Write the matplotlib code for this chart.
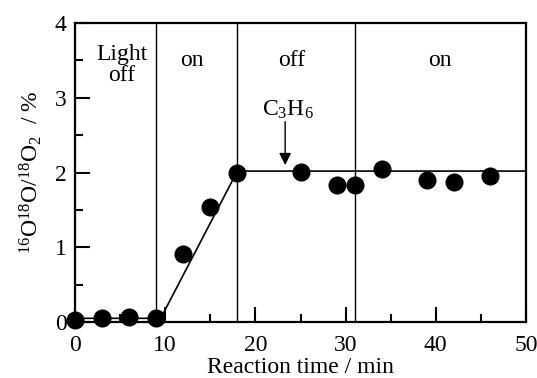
import matplotlib
matplotlib.use("Agg")
import matplotlib.pyplot as plt

plt.rcParams['font.family'] = ['Liberation Serif', 'DejaVu Serif']
plt.rcParams['mathtext.fontset'] = 'custom'
plt.rcParams['mathtext.rm'] = 'Liberation Serif'
plt.rcParams['mathtext.it'] = 'Liberation Serif:italic'
plt.rcParams['mathtext.bf'] = 'Liberation Serif:bold'

# Data
time_min = [0, 3, 6, 9, 12, 15, 18, 25, 29, 31, 34, 39, 42, 46]
ratio_pct = [0.03, 0.06, 0.07, 0.05, 0.91, 1.54, 2.00, 2.01, 1.83, 1.83, 2.05, 1.90, 1.87, 1.95]
fit_x = [0, 9.5, 18, 50]
fit_y = [0.05, 0.05, 2.02, 2.02]
switch_times = [9, 18, 31]
period_labels = ["Light\noff", "on", "off", "on"]
period_label_x = [5.2, 13, 24, 40.5]
xticks = [0, 10, 20, 30, 40, 50]
yticks = [0, 1, 2, 3, 4]

FS = 17

fig = plt.figure(figsize=(5.37, 3.78), dpi=100)
ax = fig.add_axes([0.1397, 0.148, 0.8398, 0.791])

for xv in switch_times:
    ax.axvline(xv, color='black', lw=1.0, zorder=1)

ax.plot(fit_x, fit_y, color='black', lw=1.2, zorder=2)
ax.plot(time_min, ratio_pct, 'o', color='black', ms=12, clip_on=False, zorder=3)

for lab, xv in zip(period_labels, period_label_x):
    yv = 3.44 if '\n' in lab else 3.5
    ax.text(xv, yv, lab, ha='center', va='center', fontsize=FS, linespacing=1.05)

ax.text(23.6, 2.76, r'C$_3$H$_6$', ha='center', va='baseline', fontsize=FS)
ax.annotate('', xy=(23.3, 2.1), xytext=(23.3, 2.68),
            arrowprops=dict(arrowstyle='-|>', color='black', lw=1.0,
                            mutation_scale=18, shrinkA=0, shrinkB=0))

ax.set_xlim(0, 50)
ax.set_ylim(0, 4)
ax.set_xticks(xticks)
ax.set_yticks(yticks)
ax.set_xticks([5, 15, 25, 35, 45], minor=True)
ax.set_yticks([0.5, 1.5, 2.5, 3.5], minor=True)
ax.tick_params(which='major', direction='in', length=11, width=1.5, labelsize=FS)
ax.tick_params(which='minor', direction='in', length=6, width=1.5)
ax.tick_params(axis='x', pad=9)
ax.tick_params(axis='y', pad=6)

for sp in ax.spines.values():
    sp.set_linewidth(1.6)

ax.set_xlabel('Reaction time / min', fontsize=FS, labelpad=1)
ax.set_ylabel(r'$^{16}$O$^{18}$O/$^{18}$O$_2$  / %', fontsize=FS, labelpad=8)

fig.savefig('out.png', dpi=100)
